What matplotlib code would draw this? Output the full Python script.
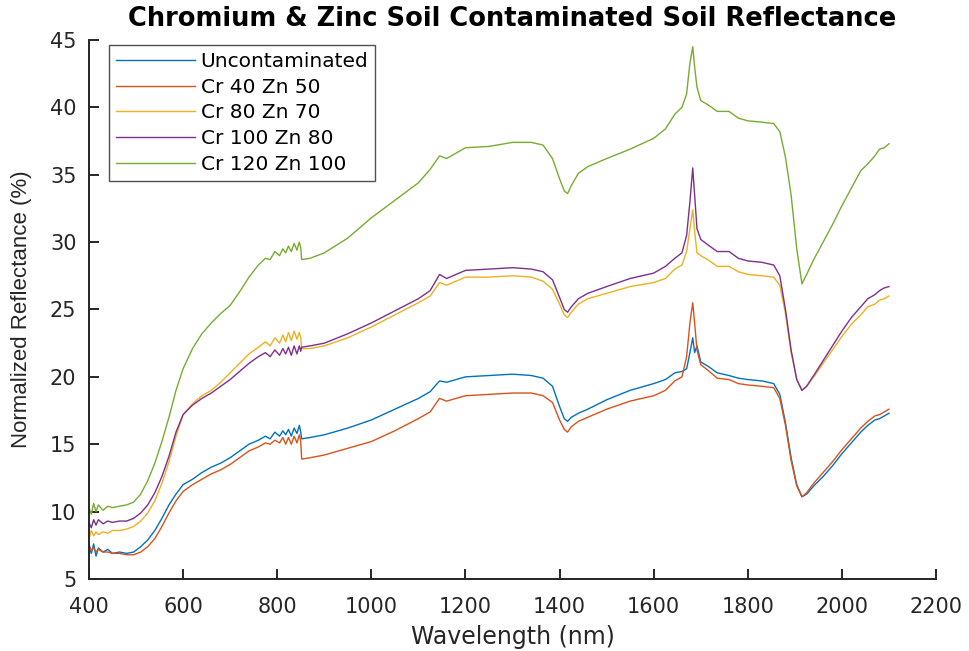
import matplotlib
matplotlib.use("Agg")
import matplotlib.pyplot as plt

plt.rcParams['font.family'] = ['DejaVu Sans']

wavelength = [400, 405, 410, 415, 420, 430, 440, 450, 465, 480, 495, 510, 525, 540, 555, 570, 585, 600,
              620, 640, 660, 680, 700, 720, 740, 760, 775, 785, 795, 805, 812, 818, 824, 830, 836, 842,
              847, 850, 852, 870, 900, 950, 1000, 1050, 1100, 1125, 1145, 1160, 1180, 1200, 1250, 1300,
              1340, 1365, 1385, 1400, 1410, 1417, 1425, 1440, 1460, 1500, 1550, 1600, 1625, 1645, 1660,
              1670, 1677, 1683, 1687, 1692, 1700, 1715, 1735, 1760, 1780, 1800, 1830, 1855, 1868, 1880,
              1892, 1904, 1915, 1925, 1940, 1960, 1980, 2000, 2020, 2040, 2055, 2070, 2080, 2090, 2100]

uncontaminated = [7.4, 6.9, 7.6, 6.7, 7.3, 7.0, 7.2, 6.9, 7.0, 6.9, 7.0, 7.4, 7.9, 8.6, 9.5, 10.5, 11.3, 12.0,
                  12.4, 12.9, 13.3, 13.6, 14.0, 14.5, 15.0, 15.3, 15.6, 15.4, 15.9, 15.6, 16.0, 15.7, 16.1, 15.6, 16.2, 15.8,
                  16.4, 15.9, 15.4, 15.5, 15.7, 16.2, 16.8, 17.6, 18.4, 18.9, 19.7, 19.6, 19.8, 20.0, 20.1, 20.2,
                  20.1, 19.9, 19.3, 17.8, 16.9, 16.7, 17.0, 17.3, 17.6, 18.3, 19.0, 19.5, 19.8, 20.3, 20.4,
                  20.6, 21.8, 22.9, 21.8, 22.3, 21.1, 20.8, 20.3, 20.1, 19.9, 19.8, 19.7, 19.5, 18.7, 16.6,
                  14.0, 12.0, 11.1, 11.3, 11.9, 12.6, 13.4, 14.3, 15.1, 15.9, 16.4, 16.8, 16.9, 17.1, 17.3]

cr40_zn50 = [7.6, 7.1, 7.3, 7.0, 7.2, 7.0, 7.0, 6.9, 6.9, 6.8, 6.8, 7.0, 7.4, 8.0, 8.9, 9.9, 10.8, 11.5,
             12.0, 12.4, 12.8, 13.1, 13.5, 14.0, 14.5, 14.8, 15.1, 15.0, 15.3, 15.1, 15.5, 15.0, 15.5, 15.0, 15.6, 15.1,
             15.7, 15.2, 13.9, 14.0, 14.2, 14.7, 15.2, 16.0, 16.9, 17.4, 18.4, 18.2, 18.4, 18.6, 18.7, 18.8,
             18.8, 18.6, 18.1, 16.8, 16.1, 15.9, 16.3, 16.7, 17.0, 17.6, 18.2, 18.6, 19.0, 19.7, 20.0,
             21.5, 24.0, 25.5, 24.0, 22.0, 20.9, 20.5, 19.9, 19.8, 19.5, 19.4, 19.3, 19.2, 18.4, 16.4,
             13.8, 11.9, 11.1, 11.4, 12.1, 12.9, 13.7, 14.6, 15.4, 16.2, 16.7, 17.1, 17.2, 17.4, 17.6]

cr80_zn70 = [8.0, 8.6, 8.2, 8.5, 8.3, 8.5, 8.4, 8.6, 8.6, 8.7, 8.9, 9.3, 9.9, 10.8, 12.1, 13.7, 15.6, 17.2,
             18.0, 18.6, 19.0, 19.6, 20.3, 21.0, 21.7, 22.2, 22.6, 22.3, 22.9, 22.5, 23.1, 22.6, 23.3, 22.7, 23.4, 22.8,
             23.3, 22.9, 22.1, 22.1, 22.3, 22.9, 23.7, 24.6, 25.5, 26.0, 27.0, 26.8, 27.1, 27.4, 27.4, 27.5,
             27.4, 27.1, 26.5, 25.4, 24.6, 24.4, 24.8, 25.4, 25.8, 26.2, 26.7, 27.0, 27.3, 28.0, 28.3,
             29.3, 31.0, 32.4, 30.8, 29.2, 29.0, 28.7, 28.2, 28.2, 27.8, 27.6, 27.5, 27.4, 26.8, 24.7,
             21.8, 19.8, 19.0, 19.3, 20.0, 21.0, 22.0, 23.0, 23.9, 24.6, 25.2, 25.4, 25.7, 25.8, 26.0]

cr100_zn80 = [9.2, 8.8, 9.4, 9.0, 9.4, 9.1, 9.3, 9.2, 9.3, 9.3, 9.5, 9.9, 10.5, 11.4, 12.6, 14.1, 15.9, 17.2,
              17.9, 18.4, 18.8, 19.3, 19.8, 20.4, 21.0, 21.5, 21.8, 21.5, 22.0, 21.6, 22.1, 21.7, 22.2, 21.6, 22.3, 21.7,
              22.3, 21.9, 22.2, 22.3, 22.5, 23.2, 24.0, 24.9, 25.8, 26.4, 27.6, 27.3, 27.6, 27.9, 28.0, 28.1,
              28.0, 27.8, 27.2, 25.9, 25.0, 24.8, 25.2, 25.8, 26.2, 26.7, 27.3, 27.7, 28.2, 28.8, 29.2,
              30.5, 33.0, 35.5, 33.5, 31.0, 30.2, 29.8, 29.3, 29.3, 28.8, 28.6, 28.5, 28.3, 27.5, 25.0,
              22.0, 19.8, 19.0, 19.3, 20.1, 21.2, 22.3, 23.4, 24.4, 25.2, 25.8, 26.1, 26.4, 26.6, 26.7]

cr120_zn100 = [10.3, 9.8, 10.6, 10.0, 10.5, 10.1, 10.4, 10.3, 10.4, 10.5, 10.7, 11.3, 12.3, 13.6, 15.2, 17.0, 19.0, 20.6,
               22.1, 23.2, 24.0, 24.7, 25.3, 26.3, 27.4, 28.3, 28.8, 28.7, 29.3, 29.0, 29.5, 29.2, 29.7, 29.3, 29.9, 29.4,
               30.0, 29.6, 28.7, 28.8, 29.2, 30.3, 31.8, 33.1, 34.4, 35.4, 36.4, 36.2, 36.6, 37.0, 37.1, 37.4,
               37.4, 37.2, 36.2, 34.7, 33.8, 33.6, 34.2, 35.1, 35.6, 36.2, 36.9, 37.7, 38.4, 39.5, 40.0,
               41.0, 43.3, 44.5, 43.0, 41.5, 40.5, 40.2, 39.7, 39.7, 39.2, 39.0, 38.9, 38.8, 38.2, 36.3,
               33.5, 29.5, 26.9, 27.6, 28.7, 30.0, 31.3, 32.7, 34.0, 35.3, 35.8, 36.4, 36.9, 37.0, 37.3]

series_labels = ['Uncontaminated', 'Cr 40 Zn 50', 'Cr 80 Zn 70', 'Cr 100 Zn 80', 'Cr 120 Zn 100']
series_values = [uncontaminated, cr40_zn50, cr80_zn70, cr100_zn80, cr120_zn100]
colors = ['#0072BD', '#D95319', '#EDB120', '#7E2F8E', '#77AC30']

x_ticks = [400, 600, 800, 1000, 1200, 1400, 1600, 1800, 2000, 2200]
y_ticks = [5, 10, 15, 20, 25, 30, 35, 40, 45]

fig = plt.figure(figsize=(9.69, 6.51), dpi=100)
ax = fig.add_axes([0.0918, 0.1106, 0.8742, 0.828])

for vals, lab, col in zip(series_values, series_labels, colors):
    ax.plot(wavelength, vals, color=col, lw=1.0, label=lab)

ax.set_xlim(400, 2200)
ax.set_ylim(5, 45)
ax.set_xticks(x_ticks)
ax.set_yticks(y_ticks)
ax.tick_params(direction='in', length=7, width=1.4, colors='#262626', labelsize=15)
ax.tick_params(axis='x', pad=13)
ax.tick_params(axis='y', pad=9)
for side in ['top', 'right']:
    ax.spines[side].set_visible(False)
for side in ['left', 'bottom']:
    ax.spines[side].set_color('#262626')
    ax.spines[side].set_linewidth(1.4)

ax.set_xlabel('Wavelength (nm)', fontsize=17, color='#262626', labelpad=6)
ax.set_ylabel('Normalized Reflectance (%)', fontsize=16, color='#262626', labelpad=13,
              family=['Liberation Sans', 'DejaVu Sans'])
ax.set_title('Chromium & Zinc Soil Contaminated Soil Reflectance', fontsize=18.5, fontweight='bold',
             color='black', pad=10)

leg = ax.legend(loc='upper left', bbox_to_anchor=(0.0236, 0.9907), fontsize=14.5, frameon=True,
                fancybox=False, edgecolor='#262626', handlelength=3.9, handletextpad=0.3,
                labelspacing=0.33, borderpad=0.35, borderaxespad=0.0)
leg.get_frame().set_linewidth(1.0)

fig.savefig('out.png', dpi=100)
